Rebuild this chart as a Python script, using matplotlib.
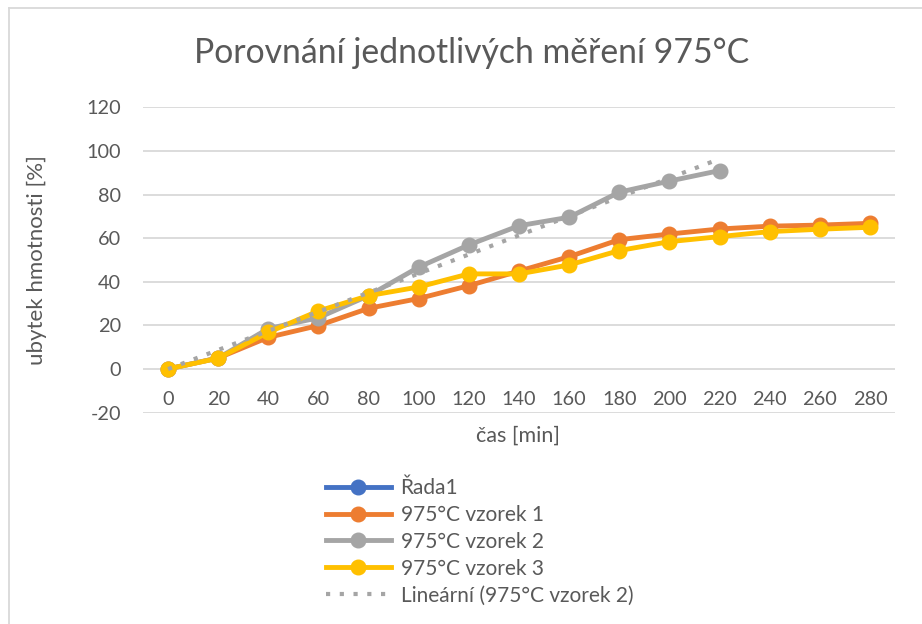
import matplotlib
matplotlib.use("Agg")
import matplotlib.pyplot as plt
from matplotlib.lines import Line2D
import numpy as np

plt.rcParams['font.family'] = ['Lato', 'DejaVu Sans']
plt.rcParams['axes.unicode_minus'] = False

# data
cas = [0, 20, 40, 60, 80, 100, 120, 140, 160, 180, 200, 220, 240, 260, 280]
vzorek1 = [0, 5.0, 14.5, 19.9, 27.8, 32.3, 38.2, 44.9, 51.5, 59.3, 61.9, 64.2, 65.5, 66.0, 66.8]
vzorek2 = [0, 5.0, 18.5, 23.5, 33.6, 46.7, 56.9, 65.7, 69.6, 81.1, 86.2, 91.0]
vzorek3 = [0, 4.9, 16.8, 26.6, 33.6, 37.6, 43.6, 43.6, 47.7, 54.3, 58.4, 60.7, 63.0, 64.1, 65.0]

labels = ['Řada1', '975°C vzorek 1', '975°C vzorek 2', '975°C vzorek 3',
          'Lineární (975°C vzorek 2)']
colors = ['#4472C4', '#ED7D31', '#A5A5A5', '#FFC000']
text_col = '#595959'
grid_col = '#D9D9D9'

W, H = 922, 624
fig = plt.figure(figsize=(W / 100, H / 100), dpi=100)
ax = fig.add_axes([143 / W, 1 - 412.5 / H, (895 - 143) / W, (412.5 - 107.4) / H])

idx = np.arange(len(cas))
lw = 3.5
ms = 10.5
for data, c, z in [(vzorek1, colors[1], 3), (vzorek2, colors[2], 4), (vzorek3, colors[3], 5)]:
    ax.plot(idx[:len(data)], data, color=c, lw=lw, marker='o', ms=ms, zorder=z,
            solid_joinstyle='round')

# linear trendline of vzorek 2
i2 = idx[:len(vzorek2)]
k, q = np.polyfit(i2, vzorek2, 1)
ax.plot(i2, k * i2 + q, color=colors[2], lw=3, linestyle=(0, (1, 2.3)),
        dash_capstyle='butt', zorder=6)

ax.set_xlim(-0.5, len(cas) - 0.5)
ax.set_ylim(-20, 120)
ax.set_yticks(range(-20, 121, 20))
ax.set_xticks(idx)
ax.set_xticklabels([str(v) for v in cas])
ax.grid(axis='y', color=grid_col, lw=1.3)
ax.set_axisbelow(True)
for s in ax.spines.values():
    s.set_visible(False)
ax.spines['bottom'].set_position(('data', 0))
ax.tick_params(axis='both', length=0, labelsize=14.3, labelcolor=text_col)
ax.tick_params(axis='x', pad=16)
ax.tick_params(axis='y', pad=16)

fig.text(472 / W, 1 - 53 / H, 'Porovnání jednotlivých měření 975°C', fontsize=24.3,
         color=text_col, ha='center', va='center')
fig.text(37 / W, 1 - 260 / H, 'ubytek hmotnosti [%]', fontsize=16, color=text_col,
         rotation=90, ha='center', va='center')
fig.text(518 / W, 1 - 436 / H, 'čas [min]', fontsize=15.5, color=text_col,
         ha='center', va='center')

handles = [Line2D([], [], color=c, lw=lw, marker='o', ms=ms) for c in colors]
handles.append(Line2D([], [], color=colors[2], lw=3, linestyle=(0, (1, 2.3)),
                      dash_capstyle='butt'))
fig.legend(handles, labels, loc='upper left', bbox_to_anchor=(326 / W, 1 - 478 / H),
           frameon=False, fontsize=15, labelcolor=text_col, handlelength=3.1,
           handletextpad=0.48, labelspacing=0.33, borderpad=0, borderaxespad=0)

# chart border (left and top edges visible)
fig.add_artist(Line2D([9 / W, 9 / W], [0, 1 - 8 / H], color=grid_col, lw=1.3))
fig.add_artist(Line2D([9 / W, 1], [1 - 8 / H, 1 - 8 / H], color=grid_col, lw=1.3))

fig.savefig('out.png', dpi=100)
